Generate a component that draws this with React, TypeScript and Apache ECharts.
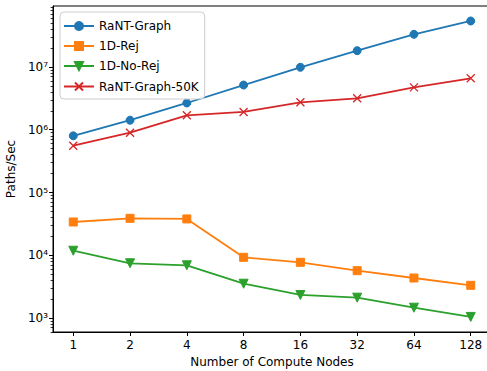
import React, { useEffect, useRef } from "react";
import * as echarts from "echarts";

const NODES = [1, 2, 4, 8, 16, 32, 64, 128];
const RANT_GRAPH = [8.0e5, 1.42e6, 2.67e6, 5.16e6, 9.9e6, 1.82e7, 3.32e7, 5.41e7];
const REJ_1D = [3.39e4, 3.88e4, 3.79e4, 9.27e3, 7.72e3, 5.68e3, 4.34e3, 3.32e3];
const NO_REJ_1D = [1.18e4, 7.45e3, 6.92e3, 3.52e3, 2.33e3, 2.11e3, 1.46e3, 1.04e3];
const RANT_GRAPH_50K = [5.57e5, 8.97e5, 1.7e6, 1.92e6, 2.74e6, 3.17e6, 4.74e6, 6.6e6];
const Y_MAJOR_EXPONENTS = [3, 4, 5, 6, 7];
const SUPERSCRIPTS: Record<string, string> = { "3": "³", "4": "⁴", "5": "⁵", "6": "⁶", "7": "⁷" };

// axis extents (log2 of nodes, log10 of paths/sec)
const X_MIN = -0.357;
const X_MAX = 7.357;
const Y_MIN = 2.777;
const Y_MAX = 7.972;

const FONT = "DejaVu Sans";
const C_BLUE = "#1f77b4";
const C_ORANGE = "#ff7f0e";
const C_GREEN = "#2ca02c";
const C_RED = "#d62728";

function minorExps(): number[] {
  const out: number[] = [];
  for (let d = 2; d <= 7; d++) {
    for (let k = 2; k <= 9; k++) {
      const e = Math.log10(k * Math.pow(10, d));
      if (e > Y_MIN && e < Y_MAX) out.push(e);
    }
  }
  return out;
}

function pairs(vals: number[]) {
  return NODES.map((n, i) => [n, vals[i]]);
}

export default function App() {
  const ref = useRef<HTMLDivElement>(null);
  useEffect(() => {
    document.body.style.margin = "0";
    const chart = echarts.init(ref.current!, null, { renderer: "svg" });
    const mk = (name: string, data: number[], color: string, symbol: string, extra: any = {}) => ({
      name,
      type: "line",
      xAxisIndex: 0,
      yAxisIndex: 0,
      data: pairs(data),
      symbol,
      symbolSize: 8,
      showSymbol: true,
      lineStyle: { color, width: 1.8 },
      itemStyle: { color, borderColor: color, borderWidth: 1 },
      emphasis: { disabled: true },
      ...extra,
    });
    const xPath = "path://M0,0L10,10M10,0L0,10";
    chart.setOption({
      animation: false,
      textStyle: { fontFamily: FONT },
      grid: {
        left: 53,
        top: 6,
        width: 438,
        height: 326,
        outerBoundsMode: "none",
        containLabel: false,
        show: true,
        borderColor: "#000",
        borderWidth: 1,
        backgroundColor: "transparent",
      },
      legend: {
        orient: "vertical",
        left: 60,
        top: 12,
        padding: [8, 6, 6, 3],
        itemWidth: 30,
        itemHeight: 10,
        itemGap: 8,
        borderColor: "#cccccc",
        borderWidth: 1,
        borderRadius: 4,
        backgroundColor: "rgba(255,255,255,0.8)",
        textStyle: { fontFamily: FONT, fontSize: 12, color: "#000" },
        data: ["RaNT-Graph", "1D-Rej", "1D-No-Rej", "RaNT-Graph-50K"],
      },
      xAxis: [
        {
          type: "log",
          logBase: 2,
          min: Math.pow(2, X_MIN),
          max: Math.pow(2, X_MAX),
          show: false,
        },
        {
          type: "value",
          min: X_MIN,
          max: X_MAX,
          position: "bottom",
          name: "Number of Compute Nodes",
          nameLocation: "middle",
          nameGap: 24,
          nameTextStyle: { fontFamily: FONT, fontSize: 12, color: "#000" },
          axisLine: { show: true, onZero: false, lineStyle: { color: "#000", width: 1 } },
          axisTick: {
            show: true,
            length: 4,
            customValues: NODES.map((_, i) => i),
            lineStyle: { color: "#000", width: 1 },
          },
          axisLabel: {
            show: true,
            margin: 7,
            customValues: NODES.map((_, i) => i),
            formatter: (v: number) => String(NODES[Math.round(v)]),
            fontFamily: FONT,
            fontSize: 12,
            color: "#000",
          },
          splitLine: { show: false },
        },
      ],
      yAxis: [
        {
          type: "log",
          logBase: 10,
          min: Math.pow(10, Y_MIN),
          max: Math.pow(10, Y_MAX),
          show: false,
        },
        {
          type: "value",
          min: Y_MIN,
          max: Y_MAX,
          position: "left",
          name: "Paths/Sec",
          nameLocation: "middle",
          nameGap: 36,
          nameTextStyle: { fontFamily: FONT, fontSize: 12, color: "#000" },
          axisLine: { show: true, onZero: false, lineStyle: { color: "#000", width: 1 } },
          axisTick: {
            show: true,
            length: 4,
            customValues: Y_MAJOR_EXPONENTS,
            lineStyle: { color: "#000", width: 1 },
          },
          axisLabel: {
            show: true,
            margin: 5,
            customValues: Y_MAJOR_EXPONENTS,
            formatter: (v: number) => "10" + (SUPERSCRIPTS[String(Math.round(v))] || ""),
            fontFamily: FONT,
            fontSize: 12,
            color: "#000",
          },
          splitLine: { show: false },
        },
        {
          type: "value",
          min: Y_MIN,
          max: Y_MAX,
          position: "left",
          axisLine: { show: false, onZero: false },
          axisTick: {
            show: true,
            length: 2.4,
            customValues: minorExps(),
            lineStyle: { color: "#000", width: 0.8 },
          },
          axisLabel: { show: false },
          splitLine: { show: false },
        },
      ],
      series: [
        mk("RaNT-Graph", RANT_GRAPH, C_BLUE, "circle"),
        mk("1D-Rej", REJ_1D, C_ORANGE, "rect"),
        mk("1D-No-Rej", NO_REJ_1D, C_GREEN, "triangle", { symbolRotate: 180, symbolSize: 9 }),
        mk("RaNT-Graph-50K", RANT_GRAPH_50K, C_RED, xPath, {
          symbolSize: 8,
          itemStyle: { color: "none", borderColor: C_RED, borderWidth: 1.3 },
        }),
      ],
    });
    return () => chart.dispose();
  }, []);
  return <div ref={ref} style={{ width: 487, height: 371 }} />;
}
